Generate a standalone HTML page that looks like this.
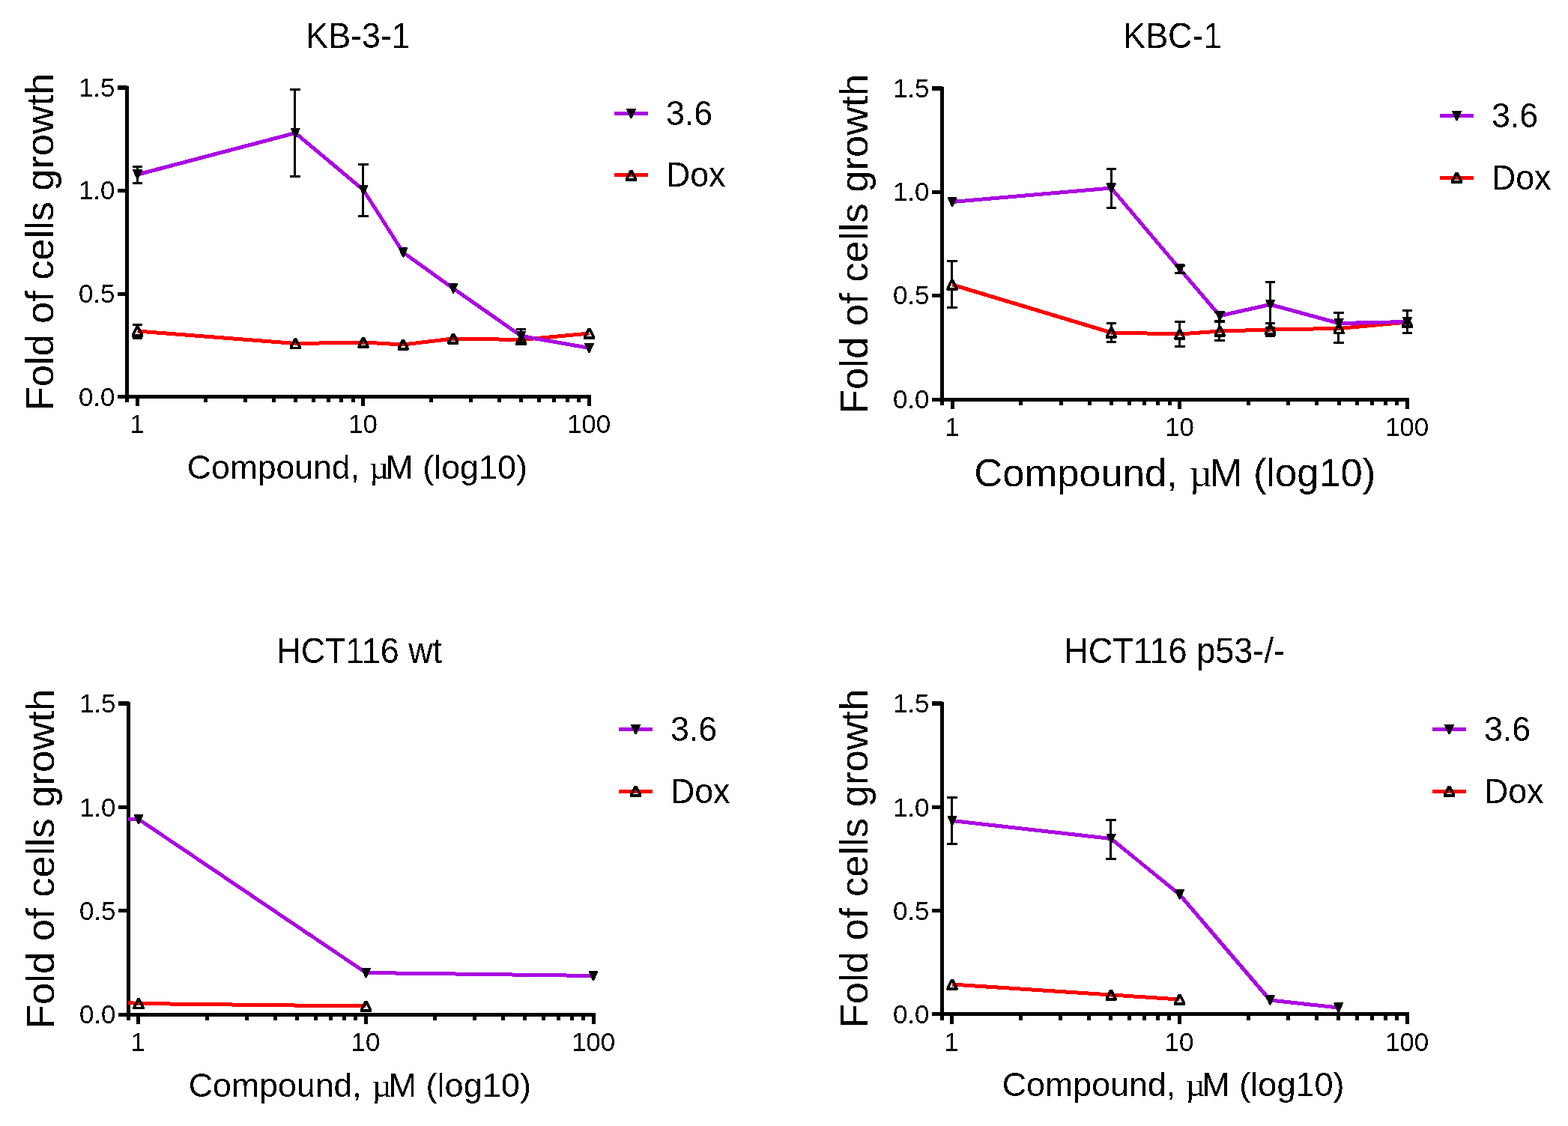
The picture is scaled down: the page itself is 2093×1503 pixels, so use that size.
<!DOCTYPE html>
<html lang="en"><head><meta charset="utf-8"><title>Fold of cells growth</title>
<style>
html,body{margin:0;padding:0;background:#fff;}
body{width:2093px;height:1503px;overflow:hidden;}
svg{display:block;}
text{font-family:"Liberation Sans",sans-serif;fill:#000;}
</style></head><body>
<svg width="2093" height="1503" viewBox="0 0 2093 1503" role="img" aria-label="Fold of cells growth versus compound concentration for four cell lines">
<defs><filter id="bw" x="-5%" y="-5%" width="110%" height="110%" color-interpolation-filters="sRGB"><feComponentTransfer><feFuncA type="discrete" tableValues="0 1"/></feComponentTransfer></filter></defs>
<rect width="2093" height="1503" fill="#fff"/>
<g filter="url(#bw)">
<g shape-rendering="crispEdges" fill="#000">
<rect x="167" y="115" width="5" height="414.5"/>
<rect x="157" y="527" width="632" height="5"/>
<rect x="157" y="390" width="12.5" height="5"/>
<rect x="157" y="252" width="12.5" height="5"/>
<rect x="157" y="114" width="12.5" height="6"/>
<rect x="181" y="532" width="5" height="10"/>
<rect x="272" y="532" width="5" height="5"/>
<rect x="325" y="532" width="5" height="5"/>
<rect x="363" y="532" width="5" height="5"/>
<rect x="392" y="532" width="5" height="5"/>
<rect x="416" y="532" width="5" height="5"/>
<rect x="436" y="532" width="5" height="5"/>
<rect x="453" y="532" width="5" height="5"/>
<rect x="469" y="532" width="5" height="5"/>
<rect x="482" y="532" width="5" height="10"/>
<rect x="573" y="532" width="5" height="5"/>
<rect x="626" y="532" width="5" height="5"/>
<rect x="664" y="532" width="5" height="5"/>
<rect x="693" y="532" width="5" height="5"/>
<rect x="717" y="532" width="5" height="5"/>
<rect x="737" y="532" width="5" height="5"/>
<rect x="755" y="532" width="5" height="5"/>
<rect x="770" y="532" width="5" height="5"/>
<rect x="784" y="532" width="5" height="10"/>
<rect x="167" y="532" width="5" height="5"/>
</g>
<text transform="translate(153.4 542) scale(1 1.03)" font-size="34.9" text-anchor="end">0.0</text>
<text transform="translate(153.4 404) scale(1 1.03)" font-size="34.9" text-anchor="end">0.5</text>
<text transform="translate(153.4 266) scale(1 1.03)" font-size="34.9" text-anchor="end">1.0</text>
<text transform="translate(153.4 129) scale(1 1.03)" font-size="34.9" text-anchor="end">1.5</text>
<text transform="translate(183 578) scale(1 1.03)" font-size="34.9" text-anchor="middle">1</text>
<text transform="translate(484.5 578) scale(1 1.03)" font-size="34.9" text-anchor="middle">10</text>
<text transform="translate(786 578) scale(1 1.03)" font-size="34.9" text-anchor="middle">100</text>
<text transform="translate(408.3 64) scale(1 1.07)" font-size="44.8">KB-3-1</text>
<text transform="translate(249.74 639)" font-size="44.86" xml:space="preserve"><tspan x="0" font-size="44.5">Compound, </tspan><tspan x="243.63" font-size="44.86" font-family="'Liberation Serif',serif">µ</tspan><tspan x="264.68" font-size="44.86">M (log10)</tspan></text>
<text transform="translate(71 548.2) rotate(-90)" font-size="52.3">Fold of cells growth</text>
<polyline points="183.5,442 394.24,458.5 485,457 538.09,460 604.98,452 695.74,453.5 786.5,445" fill="none" stroke="#FF0000" stroke-width="5" stroke-linejoin="round"/>
<polyline points="183.5,233 394.24,177.5 485,253.5 538.09,337 604.98,385 695.74,448.5 786.5,464.5" fill="none" stroke="#AA08E2" stroke-width="5" stroke-linejoin="round"/>
<g fill="#000" shape-rendering="crispEdges"><rect x="182" y="222.5" width="3" height="22"/><rect x="177" y="221" width="13" height="3"/><rect x="177" y="243" width="13" height="3"/></g>
<path d="M176.8 226.5H190.2L184.5 239.5H182.5Z" fill="#000"/>
<g fill="#000" shape-rendering="crispEdges"><rect x="392" y="119.5" width="3" height="116"/><rect x="387" y="118" width="14" height="3"/><rect x="387" y="234" width="14" height="3"/></g>
<path d="M387.54 171H400.94L395.24 184H393.24Z" fill="#000"/>
<g fill="#000" shape-rendering="crispEdges"><rect x="483" y="219.5" width="3" height="69"/><rect x="478" y="218" width="14" height="3"/><rect x="478" y="287" width="14" height="3"/></g>
<path d="M478.3 247H491.7L486 260H484Z" fill="#000"/>
<path d="M531.39 330.5H544.79L539.09 343.5H537.09Z" fill="#000"/>
<path d="M598.28 378.5H611.68L605.98 391.5H603.98Z" fill="#000"/>
<g fill="#000" shape-rendering="crispEdges"><rect x="694" y="439.5" width="3" height="18"/><rect x="689" y="438" width="13" height="3"/><rect x="689" y="456" width="13" height="3"/></g>
<path d="M689.04 442H702.44L696.74 455H694.74Z" fill="#000"/>
<path d="M779.8 458H793.2L787.5 471H785.5Z" fill="#000"/>
<g fill="#000" shape-rendering="crispEdges"><rect x="182" y="433.5" width="3" height="2.5"/><rect x="182" y="448" width="3" height="3.5"/><rect x="177" y="432" width="13" height="3"/><rect x="177" y="450" width="13" height="3"/></g>
<path d="M181.5 435H185.5L191 446.3V449.5H176V446.3ZM183.5 439.6L187.2 446.5H179.8Z" fill="#000" fill-rule="evenodd"/>
<path d="M392.24 451.5H396.24L401.74 462.8V466H386.74V462.8ZM394.24 456.1L397.94 463H390.54Z" fill="#000" fill-rule="evenodd"/>
<path d="M483 450H487L492.5 461.3V464.5H477.5V461.3ZM485 454.6L488.7 461.5H481.3Z" fill="#000" fill-rule="evenodd"/>
<path d="M536.09 453H540.09L545.59 464.3V467.5H530.59V464.3ZM538.09 457.6L541.79 464.5H534.39Z" fill="#000" fill-rule="evenodd"/>
<path d="M602.98 445H606.98L612.48 456.3V459.5H597.48V456.3ZM604.98 449.6L608.68 456.5H601.28Z" fill="#000" fill-rule="evenodd"/>
<path d="M693.74 446.5H697.74L703.24 457.8V461H688.24V457.8ZM695.74 451.1L699.44 458H692.04Z" fill="#000" fill-rule="evenodd"/>
<path d="M784.5 438H788.5L794 449.3V452.5H779V449.3ZM786.5 442.6L790.2 449.5H782.8Z" fill="#000" fill-rule="evenodd"/>
<rect x="820" y="149" width="45" height="5" fill="#AA08E2" shape-rendering="crispEdges"/>
<path d="M835.8 145H849.2L843.5 158H841.5Z" fill="#000"/>
<text transform="translate(889 166.6) scale(1 1.045)" font-size="44.7">3.6</text>
<rect x="820" y="231" width="45" height="5" fill="#FF0000" shape-rendering="crispEdges"/>
<path d="M840.5 227H844.5L850 238.3V241.5H835V238.3ZM842.5 231.6L846.2 238.5H838.8Z" fill="#000" fill-rule="evenodd"/>
<text transform="translate(889 249.3) scale(1 1.03)" font-size="44.7">Dox</text>
</g>
<g filter="url(#bw)">
<g shape-rendering="crispEdges" fill="#000">
<rect x="1255" y="116" width="5" height="417.5"/>
<rect x="1244" y="531" width="637" height="5"/>
<rect x="1244" y="392" width="13.5" height="5"/>
<rect x="1244" y="254" width="13.5" height="5"/>
<rect x="1244" y="115" width="13.5" height="6"/>
<rect x="1269" y="536" width="5" height="10"/>
<rect x="1360" y="536" width="5" height="5"/>
<rect x="1414" y="536" width="5" height="5"/>
<rect x="1452" y="536" width="5" height="5"/>
<rect x="1481" y="536" width="5" height="5"/>
<rect x="1505" y="536" width="5" height="5"/>
<rect x="1525" y="536" width="5" height="5"/>
<rect x="1543" y="536" width="5" height="5"/>
<rect x="1559" y="536" width="5" height="5"/>
<rect x="1572" y="536" width="5" height="10"/>
<rect x="1664" y="536" width="5" height="5"/>
<rect x="1717" y="536" width="5" height="5"/>
<rect x="1755" y="536" width="5" height="5"/>
<rect x="1785" y="536" width="5" height="5"/>
<rect x="1809" y="536" width="5" height="5"/>
<rect x="1829" y="536" width="5" height="5"/>
<rect x="1847" y="536" width="5" height="5"/>
<rect x="1862" y="536" width="5" height="5"/>
<rect x="1876" y="536" width="5" height="10"/>
<rect x="1255" y="536" width="5" height="5"/>
</g>
<text transform="translate(1240.4 545) scale(1 1.03)" font-size="34.9" text-anchor="end">0.0</text>
<text transform="translate(1240.4 406) scale(1 1.03)" font-size="34.9" text-anchor="end">0.5</text>
<text transform="translate(1240.4 268) scale(1 1.03)" font-size="34.9" text-anchor="end">1.0</text>
<text transform="translate(1240.4 130) scale(1 1.03)" font-size="34.9" text-anchor="end">1.5</text>
<text transform="translate(1271 582) scale(1 1.03)" font-size="34.9" text-anchor="middle">1</text>
<text transform="translate(1574.5 582) scale(1 1.03)" font-size="34.9" text-anchor="middle">10</text>
<text transform="translate(1878 582) scale(1 1.03)" font-size="34.9" text-anchor="middle">100</text>
<text transform="translate(1499.3 64) scale(1 1.07)" font-size="44.8">KBC-1</text>
<text transform="translate(1300.33 649)" font-size="52.49" xml:space="preserve"><tspan x="0" font-size="52.5">Compound, </tspan><tspan x="287.49" font-size="52.49" font-family="'Liberation Serif',serif">µ</tspan><tspan x="314.26" font-size="52.49">M (log10)</tspan></text>
<text transform="translate(1158 552.3) rotate(-90)" font-size="52.65">Fold of cells growth</text>
<polyline points="1271,380 1483.31,444 1574.75,446 1628.24,442 1695.62,440 1787.06,438.5 1878.5,430" fill="none" stroke="#FF0000" stroke-width="5" stroke-linejoin="round"/>
<polyline points="1271,269.5 1483.31,251 1574.75,359 1628.24,421.5 1695.62,406.5 1787.06,431.5 1878.5,429.5" fill="none" stroke="#AA08E2" stroke-width="5" stroke-linejoin="round"/>
<path d="M1264.3 263H1277.7L1272 276H1270Z" fill="#000"/>
<g fill="#000" shape-rendering="crispEdges"><rect x="1482" y="225.5" width="3" height="52"/><rect x="1477" y="224" width="13" height="3"/><rect x="1477" y="276" width="13" height="3"/></g>
<path d="M1476.61 244.5H1490.01L1484.31 257.5H1482.31Z" fill="#000"/>
<g fill="#000" shape-rendering="crispEdges"><rect x="1573" y="354.5" width="3" height="10"/><rect x="1568" y="353" width="14" height="3"/><rect x="1568" y="363" width="14" height="3"/></g>
<path d="M1568.05 352.5H1581.45L1575.75 365.5H1573.75Z" fill="#000"/>
<g fill="#000" shape-rendering="crispEdges"><rect x="1626" y="416.5" width="3" height="12"/><rect x="1621" y="415" width="14" height="3"/><rect x="1621" y="427" width="14" height="3"/></g>
<path d="M1621.54 415H1634.94L1629.24 428H1627.24Z" fill="#000"/>
<g fill="#000" shape-rendering="crispEdges"><rect x="1694" y="376.5" width="3" height="61"/><rect x="1689" y="375" width="13" height="3"/><rect x="1689" y="436" width="13" height="3"/></g>
<path d="M1688.92 400H1702.32L1696.62 413H1694.62Z" fill="#000"/>
<path d="M1780.36 425H1793.76L1788.06 438H1786.06Z" fill="#000"/>
<g fill="#000" shape-rendering="crispEdges"><rect x="1877" y="414.5" width="3" height="30"/><rect x="1872" y="413" width="13" height="3"/><rect x="1872" y="443" width="13" height="3"/></g>
<path d="M1871.8 423H1885.2L1879.5 436H1877.5Z" fill="#000"/>
<g fill="#000" shape-rendering="crispEdges"><rect x="1269" y="348.5" width="3" height="25.5"/><rect x="1269" y="386" width="3" height="24.5"/><rect x="1264" y="347" width="14" height="3"/><rect x="1264" y="409" width="14" height="3"/></g>
<path d="M1269 373H1273L1278.5 384.3V387.5H1263.5V384.3ZM1271 377.6L1274.7 384.5H1267.3Z" fill="#000" fill-rule="evenodd"/>
<g fill="#000" shape-rendering="crispEdges"><rect x="1482" y="431.5" width="3" height="6.5"/><rect x="1482" y="450" width="3" height="6.5"/><rect x="1477" y="430" width="13" height="3"/><rect x="1477" y="455" width="13" height="3"/></g>
<path d="M1481.31 437H1485.31L1490.81 448.3V451.5H1475.81V448.3ZM1483.31 441.6L1487.01 448.5H1479.61Z" fill="#000" fill-rule="evenodd"/>
<g fill="#000" shape-rendering="crispEdges"><rect x="1573" y="429.5" width="3" height="10.5"/><rect x="1573" y="452" width="3" height="10.5"/><rect x="1568" y="428" width="14" height="3"/><rect x="1568" y="461" width="14" height="3"/></g>
<path d="M1572.75 439H1576.75L1582.25 450.3V453.5H1567.25V450.3ZM1574.75 443.6L1578.45 450.5H1571.05Z" fill="#000" fill-rule="evenodd"/>
<g fill="#000" shape-rendering="crispEdges"><rect x="1626" y="429.5" width="3" height="6.5"/><rect x="1626" y="448" width="3" height="6.5"/><rect x="1621" y="428" width="14" height="3"/><rect x="1621" y="453" width="14" height="3"/></g>
<path d="M1626.24 435H1630.24L1635.74 446.3V449.5H1620.74V446.3ZM1628.24 439.6L1631.94 446.5H1624.54Z" fill="#000" fill-rule="evenodd"/>
<g fill="#000" shape-rendering="crispEdges"><rect x="1694" y="431.5" width="3" height="2.5"/><rect x="1694" y="446" width="3" height="2.5"/><rect x="1689" y="430" width="13" height="3"/><rect x="1689" y="447" width="13" height="3"/></g>
<path d="M1693.62 433H1697.62L1703.12 444.3V447.5H1688.12V444.3ZM1695.62 437.6L1699.32 444.5H1691.92Z" fill="#000" fill-rule="evenodd"/>
<g fill="#000" shape-rendering="crispEdges"><rect x="1785" y="417.5" width="3" height="15"/><rect x="1785" y="444.5" width="3" height="13"/><rect x="1780" y="416" width="14" height="3"/><rect x="1780" y="456" width="14" height="3"/></g>
<path d="M1785.06 431.5H1789.06L1794.56 442.8V446H1779.56V442.8ZM1787.06 436.1L1790.76 443H1783.36Z" fill="#000" fill-rule="evenodd"/>
<path d="M1876.5 423H1880.5L1886 434.3V437.5H1871V434.3ZM1878.5 427.6L1882.2 434.5H1874.8Z" fill="#000" fill-rule="evenodd"/>
<rect x="1922" y="152" width="45" height="5" fill="#AA08E2" shape-rendering="crispEdges"/>
<path d="M1937.8 148H1951.2L1945.5 161H1943.5Z" fill="#000"/>
<text transform="translate(1991 169.5) scale(1 1.045)" font-size="44.7">3.6</text>
<rect x="1922" y="235" width="45" height="5" fill="#FF0000" shape-rendering="crispEdges"/>
<path d="M1942.5 230H1946.5L1952 241.3V244.5H1937V241.3ZM1944.5 234.6L1948.2 241.5H1940.8Z" fill="#000" fill-rule="evenodd"/>
<text transform="translate(1991 252.5) scale(1 1.03)" font-size="44.7">Dox</text>
</g>
<g filter="url(#bw)">
<g shape-rendering="crispEdges" fill="#000">
<rect x="169" y="937" width="5" height="417.5"/>
<rect x="158" y="1352" width="637" height="5"/>
<rect x="158" y="1213" width="13.5" height="5"/>
<rect x="158" y="1075" width="13.5" height="5"/>
<rect x="158" y="936" width="13.5" height="6"/>
<rect x="182" y="1357" width="5" height="10"/>
<rect x="274" y="1357" width="5" height="5"/>
<rect x="327" y="1357" width="5" height="5"/>
<rect x="365" y="1357" width="5" height="5"/>
<rect x="394" y="1357" width="5" height="5"/>
<rect x="419" y="1357" width="5" height="5"/>
<rect x="439" y="1357" width="5" height="5"/>
<rect x="457" y="1357" width="5" height="5"/>
<rect x="472" y="1357" width="5" height="5"/>
<rect x="486" y="1357" width="5" height="10"/>
<rect x="578" y="1357" width="5" height="5"/>
<rect x="631" y="1357" width="5" height="5"/>
<rect x="669" y="1357" width="5" height="5"/>
<rect x="698" y="1357" width="5" height="5"/>
<rect x="723" y="1357" width="5" height="5"/>
<rect x="743" y="1357" width="5" height="5"/>
<rect x="761" y="1357" width="5" height="5"/>
<rect x="776" y="1357" width="5" height="5"/>
<rect x="790" y="1357" width="5" height="10"/>
<rect x="169" y="1357" width="5" height="5"/>
</g>
<text transform="translate(154.4 1366) scale(1 1.03)" font-size="34.9" text-anchor="end">0.0</text>
<text transform="translate(154.4 1228) scale(1 1.03)" font-size="34.9" text-anchor="end">0.5</text>
<text transform="translate(154.4 1090) scale(1 1.03)" font-size="34.9" text-anchor="end">1.0</text>
<text transform="translate(154.4 951) scale(1 1.03)" font-size="34.9" text-anchor="end">1.5</text>
<text transform="translate(184 1403) scale(1 1.03)" font-size="34.9" text-anchor="middle">1</text>
<text transform="translate(488 1403) scale(1 1.03)" font-size="34.9" text-anchor="middle">10</text>
<text transform="translate(792 1403) scale(1 1.03)" font-size="34.9" text-anchor="middle">100</text>
<text transform="translate(369.3 885) scale(1 1.07)" font-size="44.8">HCT116 wt</text>
<text transform="translate(251.73 1464)" font-size="45.08" xml:space="preserve"><tspan x="0" font-size="44.7">Compound, </tspan><tspan x="245.13" font-size="45.08" font-family="'Liberation Serif',serif">µ</tspan><tspan x="266.77" font-size="45.08">M (log10)</tspan></text>
<text transform="translate(72 1373.3) rotate(-90)" font-size="52.65">Fold of cells growth</text>
<polyline points="171,1338.5 185,1339.5 488.5,1343" fill="none" stroke="#FF0000" stroke-width="5" stroke-linejoin="round"/>
<polyline points="171,1093.5 185,1093.5 488.5,1298.5 792,1302.5" fill="none" stroke="#AA08E2" stroke-width="5" stroke-linejoin="round"/>
<path d="M178.3 1087H191.7L186 1100H184Z" fill="#000"/>
<path d="M481.8 1292H495.2L489.5 1305H487.5Z" fill="#000"/>
<path d="M785.3 1296H798.7L793 1309H791Z" fill="#000"/>
<path d="M183 1332.5H187L192.5 1343.8V1347H177.5V1343.8ZM185 1337.1L188.7 1344H181.3Z" fill="#000" fill-rule="evenodd"/>
<path d="M486.5 1336H490.5L496 1347.3V1350.5H481V1347.3ZM488.5 1340.6L492.2 1347.5H484.8Z" fill="#000" fill-rule="evenodd"/>
<rect x="826" y="971" width="45" height="5" fill="#AA08E2" shape-rendering="crispEdges"/>
<path d="M841.8 967H855.2L849.5 980H847.5Z" fill="#000"/>
<text transform="translate(895 988.5) scale(1 1.045)" font-size="44.7">3.6</text>
<rect x="826" y="1054" width="45" height="5" fill="#FF0000" shape-rendering="crispEdges"/>
<path d="M846.5 1049H850.5L856 1060.3V1063.5H841V1060.3ZM848.5 1053.6L852.2 1060.5H844.8Z" fill="#000" fill-rule="evenodd"/>
<text transform="translate(895 1071.5) scale(1 1.03)" font-size="44.7">Dox</text>
</g>
<g filter="url(#bw)">
<g shape-rendering="crispEdges" fill="#000">
<rect x="1255" y="937" width="5" height="416.5"/>
<rect x="1244" y="1351" width="637" height="5"/>
<rect x="1244" y="1213" width="13.5" height="5"/>
<rect x="1244" y="1075" width="13.5" height="5"/>
<rect x="1244" y="936" width="13.5" height="6"/>
<rect x="1268" y="1356" width="5" height="11"/>
<rect x="1360" y="1356" width="5" height="6"/>
<rect x="1413" y="1356" width="5" height="6"/>
<rect x="1451" y="1356" width="5" height="6"/>
<rect x="1480" y="1356" width="5" height="6"/>
<rect x="1505" y="1356" width="5" height="6"/>
<rect x="1525" y="1356" width="5" height="6"/>
<rect x="1543" y="1356" width="5" height="6"/>
<rect x="1558" y="1356" width="5" height="6"/>
<rect x="1572" y="1356" width="5" height="11"/>
<rect x="1664" y="1356" width="5" height="6"/>
<rect x="1717" y="1356" width="5" height="6"/>
<rect x="1755" y="1356" width="5" height="6"/>
<rect x="1784" y="1356" width="5" height="6"/>
<rect x="1809" y="1356" width="5" height="6"/>
<rect x="1829" y="1356" width="5" height="6"/>
<rect x="1847" y="1356" width="5" height="6"/>
<rect x="1862" y="1356" width="5" height="6"/>
<rect x="1876" y="1356" width="5" height="11"/>
<rect x="1255" y="1356" width="5" height="6"/>
</g>
<text transform="translate(1240.4 1366) scale(1 1.03)" font-size="34.9" text-anchor="end">0.0</text>
<text transform="translate(1240.4 1228) scale(1 1.03)" font-size="34.9" text-anchor="end">0.5</text>
<text transform="translate(1240.4 1090) scale(1 1.03)" font-size="34.9" text-anchor="end">1.0</text>
<text transform="translate(1240.4 951) scale(1 1.03)" font-size="34.9" text-anchor="end">1.5</text>
<text transform="translate(1270 1403) scale(1 1.03)" font-size="34.9" text-anchor="middle">1</text>
<text transform="translate(1574 1403) scale(1 1.03)" font-size="34.9" text-anchor="middle">10</text>
<text transform="translate(1878 1403) scale(1 1.03)" font-size="34.9" text-anchor="middle">100</text>
<text transform="translate(1420.1 885) scale(1 1.07)" font-size="45.1">HCT116 p53-/-</text>
<text transform="translate(1337.73 1463)" font-size="45.06" xml:space="preserve"><tspan x="0" font-size="44.77">Compound, </tspan><tspan x="245.13" font-size="45.06" font-family="'Liberation Serif',serif">µ</tspan><tspan x="266.58" font-size="45.06">M (log10)</tspan></text>
<text transform="translate(1158 1372.3) rotate(-90)" font-size="52.55">Fold of cells growth</text>
<polyline points="1271,1314 1483.14,1328 1574.5,1334" fill="none" stroke="#FF0000" stroke-width="5" stroke-linejoin="round"/>
<polyline points="1271,1095.5 1483.14,1119.5 1574.5,1194 1695.27,1335 1786.64,1345" fill="none" stroke="#AA08E2" stroke-width="5" stroke-linejoin="round"/>
<g fill="#000" shape-rendering="crispEdges"><rect x="1269" y="1064.5" width="3" height="62"/><rect x="1264" y="1063" width="14" height="3"/><rect x="1264" y="1125" width="14" height="3"/></g>
<path d="M1264.3 1089H1277.7L1272 1102H1270Z" fill="#000"/>
<g fill="#000" shape-rendering="crispEdges"><rect x="1481" y="1094.5" width="3" height="52"/><rect x="1476" y="1093" width="14" height="3"/><rect x="1476" y="1145" width="14" height="3"/></g>
<path d="M1476.44 1113H1489.84L1484.14 1126H1482.14Z" fill="#000"/>
<path d="M1567.8 1187.5H1581.2L1575.5 1200.5H1573.5Z" fill="#000"/>
<path d="M1688.57 1328.5H1701.97L1696.27 1341.5H1694.27Z" fill="#000"/>
<path d="M1779.94 1338.5H1793.34L1787.64 1351.5H1785.64Z" fill="#000"/>
<path d="M1269 1307H1273L1278.5 1318.3V1321.5H1263.5V1318.3ZM1271 1311.6L1274.7 1318.5H1267.3Z" fill="#000" fill-rule="evenodd"/>
<path d="M1481.14 1321H1485.14L1490.64 1332.3V1335.5H1475.64V1332.3ZM1483.14 1325.6L1486.84 1332.5H1479.44Z" fill="#000" fill-rule="evenodd"/>
<path d="M1572.5 1327H1576.5L1582 1338.3V1341.5H1567V1338.3ZM1574.5 1331.6L1578.2 1338.5H1570.8Z" fill="#000" fill-rule="evenodd"/>
<rect x="1912" y="971" width="45" height="5" fill="#AA08E2" shape-rendering="crispEdges"/>
<path d="M1927.8 967H1941.2L1935.5 980H1933.5Z" fill="#000"/>
<text transform="translate(1981 988.5) scale(1 1.045)" font-size="44.7">3.6</text>
<rect x="1912" y="1054" width="45" height="5" fill="#FF0000" shape-rendering="crispEdges"/>
<path d="M1932.5 1049H1936.5L1942 1060.3V1063.5H1927V1060.3ZM1934.5 1053.6L1938.2 1060.5H1930.8Z" fill="#000" fill-rule="evenodd"/>
<text transform="translate(1981 1071.5) scale(1 1.03)" font-size="44.7">Dox</text>
</g>
</svg>
</body></html>
